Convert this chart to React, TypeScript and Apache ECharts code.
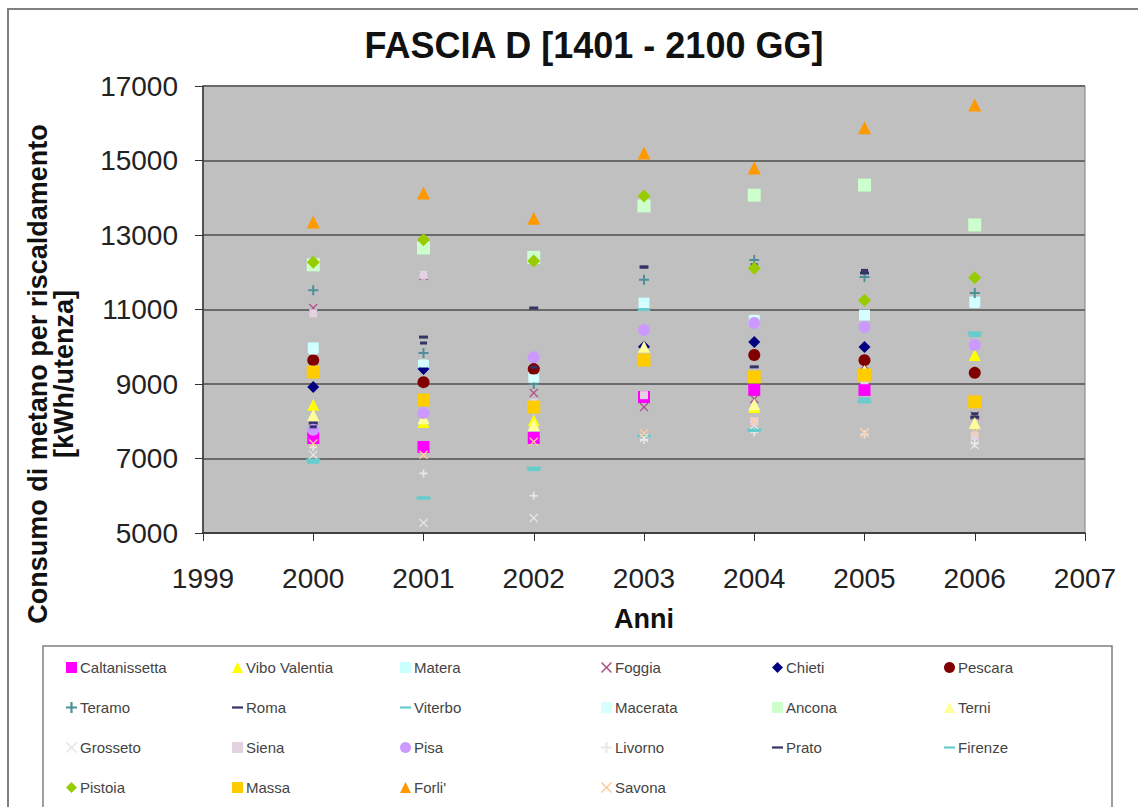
import React, { useEffect, useRef } from "react";
import * as echarts from "echarts";

const years = [2000, 2001, 2002, 2003, 2004, 2005, 2006];
const yTicks = [5000, 7000, 9000, 11000, 13000, 15000, 17000];

const caltanissetta = [7550, 7310, 7550, 8650, 8840, 8840, null];
const viboValentia = [8440, 7980, 8030, 9700, 8380, 9300, 9780];
const matera = [9970, 9500, 9190, 11170, 10700, 10850, 11200];
const foggia = [11040, 11900, 8760, 8380, 8600, 9500, 8150];
const chieti = [8920, 9400, 9430, 10000, 10130, 9990, null];
const pescara = [9640, 9050, 9400, null, 9780, 9640, 9300];
const teramo = [11520, 9830, 9000, 11800, 12330, 11870, 11440];
const roma = [7950, 10260, 11040, 12140, 9460, 11980, 8110];
const viterbo = [6960, 5940, 6740, 7600, 7770, 8520, 10370];
const macerata = [9900, 9550, 9150, 11100, 10750, 10850, 11150];
const ancona = [12200, 12650, 12400, 13780, 14070, 14340, 13270];
const terni = [8170, 8080, 7900, 10000, 8450, 9350, 7950];
const grosseto = [7100, 5270, 5400, 7550, 7900, 7700, 7360];
const siena = [10900, 11930, 8500, 8700, 8000, 9100, 7600];
const pisa = [7770, 8220, 9720, 10450, 10640, 10530, 10050];
const livorno = [7300, 6600, 6000, 7500, 7700, 7650, 7400];
const prato = [7850, 10100, 9450, 12140, 12200, 12050, 8200];
const firenze = [6900, 5940, 6700, 11000, 7750, 8600, 10300];
const pistoia = [12270, 12870, 12300, 14050, 12110, 11250, 11850];
const massa = [9320, 8570, 8380, 9640, 9190, 9240, 8520];
const forli = [13350, 14130, 13450, 15200, 14800, 15880, 16490];
const savona = [7400, 7100, 7450, 7680, 8000, 7680, 7700];

const names = [
  "Caltanissetta", "Vibo Valentia", "Matera", "Foggia", "Chieti", "Pescara",
  "Teramo", "Roma", "Viterbo", "Macerata", "Ancona", "Terni",
  "Grosseto", "Siena", "Pisa", "Livorno", "Prato", "Firenze",
  "Pistoia", "Massa", "Forli'", "Savona",
];
const values = [
  caltanissetta, viboValentia, matera, foggia, chieti, pescara,
  teramo, roma, viterbo, macerata, ancona, terni,
  grosseto, siena, pisa, livorno, prato, firenze,
  pistoia, massa, forli, savona,
];

const PLUS = "path://M4,0H6V4H10V6H6V10H4V6H0V4H4Z";
const CROSS = "path://M1,0L5,4L9,0L10,1L6,5L10,9L9,10L5,6L1,10L0,9L4,5L0,1Z";

const styles: any[] = [
  { c: "#FF00FF", s: "rect", z: 12 },
  { c: "#FFFF00", s: "triangle", z: 12 },
  { c: "#CCFFFF", s: "rect", z: 11 },
  { c: "#B0508A", s: CROSS, z: 9 },
  { c: "#000080", s: "diamond", z: 12 },
  { c: "#800000", s: "circle", z: 12 },
  { c: "#4F8F9A", s: PLUS, z: 10 },
  { c: "#333366", s: "rect", z: [9, 3] },
  { c: "#66CCCC", s: "rect", z: [14, 3] },
  { c: "#D8FFFF", s: "rect", z: 8 },
  { c: "#CCFFCC", s: "rect", z: 13 },
  { c: "#FFFF99", s: "triangle", z: 12 },
  { c: "#E6E6E6", s: CROSS, z: 9 },
  { c: "#E2D2E2", s: "rect", z: 8 },
  { c: "#CC99FF", s: "circle", z: 12 },
  { c: "#E8E8E8", s: PLUS, z: 8 },
  { c: "#333366", s: "rect", z: [7, 3] },
  { c: "#66CCCC", s: "rect", z: [12, 3] },
  { c: "#99CC00", s: "diamond", z: 13 },
  { c: "#FFCC00", s: "rect", z: 13 },
  { c: "#FF9900", s: "triangle", z: 13 },
  { c: "#FFCC99", s: CROSS, z: 9 },
];

const FONT = "'Liberation Sans', Arial, sans-serif";
const colLefts = [66, 232, 400, 601, 772, 944];

export default function App() {
  const ref = useRef<HTMLDivElement>(null);
  useEffect(() => {
    if (!ref.current) return;
    const chart = echarts.init(ref.current, null, { renderer: "svg" });
    const series = names.map((n, i) => ({
      name: n,
      type: "scatter",
      data: years.map((y, j) => (values[i][j] == null ? null : [y, values[i][j]])).filter((d) => d),
      symbol: styles[i].s,
      symbolSize: styles[i].z,
      itemStyle: { color: styles[i].c, opacity: 1 },
      emphasis: { disabled: true },
    }));
    const legends = colLefts.map((left, col) => ({
      orient: "vertical",
      left,
      top: 660,
      itemGap: 25,
      itemWidth: 11,
      itemHeight: 11,
      padding: 0,
      textStyle: { fontFamily: FONT, fontSize: 15, color: "#444", padding: [0, 0, 0, -2] },
      data: names.filter((_, i) => i % 6 === col).map((n) => {
        const idx = names.indexOf(n);
        const st = styles[idx];
        return Array.isArray(st.z) ? { name: n, icon: "path://M0,4H10V6H0Z" } : { name: n };
      }),
      selectedMode: false,
    }));
    chart.setOption({
      animation: false,
      backgroundColor: "#fff",
      grid: { left: 203, right: 53, top: 86, bottom: 274, show: true, backgroundColor: "#C0C0C0", borderColor: "#808080", borderWidth: 1 },
      xAxis: {
        type: "value",
        min: 1999,
        max: 2007,
        interval: 1,
        name: "Anni",
        nameLocation: "middle",
        nameGap: 72,
        nameTextStyle: { fontFamily: FONT, fontSize: 27, fontWeight: "bold", color: "#111" },
        axisLine: { show: true, onZero: false, lineStyle: { color: "#333", width: 1.5 } },
        axisTick: { show: true, inside: false, length: 8, lineStyle: { color: "#333" } },
        axisLabel: { fontFamily: FONT, fontSize: 28, color: "#222", margin: 31, formatter: (v: number) => String(v) },
        splitLine: { show: false },
      },
      yAxis: {
        type: "value",
        min: 5000,
        max: 17000,
        interval: 2000,
        axisLine: { show: true, lineStyle: { color: "#333", width: 1.5 } },
        axisTick: { show: true, length: 8, lineStyle: { color: "#333" } },
        axisLabel: { fontFamily: FONT, fontSize: 28, color: "#222", margin: 25, formatter: (v: number) => String(v) },
        splitLine: { show: true, lineStyle: { color: "#6A6A6A", width: 2 } },
      },
      legend: legends,
      series,
      graphic: [
        { type: "rect", shape: { x: 8, y: 9, width: 1140, height: 810 }, style: { fill: "none", stroke: "#808080", lineWidth: 2 }, silent: true, z: -1 },
        { type: "rect", shape: { x: 43, y: 646, width: 1069, height: 170 }, style: { fill: "none", stroke: "#808080", lineWidth: 1.5 }, silent: true, z: -1 },
        { type: "text", x: 594, y: 45, style: { text: "FASCIA D [1401 - 2100 GG]", fontFamily: FONT, fontSize: 36, fontWeight: "bold", fill: "#111", align: "center", verticalAlign: "middle" } },
        { type: "text", x: 51, y: 374, rotation: Math.PI / 2, style: { text: "Consumo di metano per riscaldamento\n[kWh/utenza]", fontFamily: FONT, fontSize: 27, fontWeight: "bold", fill: "#111", align: "center", verticalAlign: "middle", lineHeight: 26 } },
      ],
    });
    return () => chart.dispose();
  }, []);
  return <div ref={ref} style={{ width: 1138, height: 807, position: "absolute", left: 0, top: 0 }} />;
}
